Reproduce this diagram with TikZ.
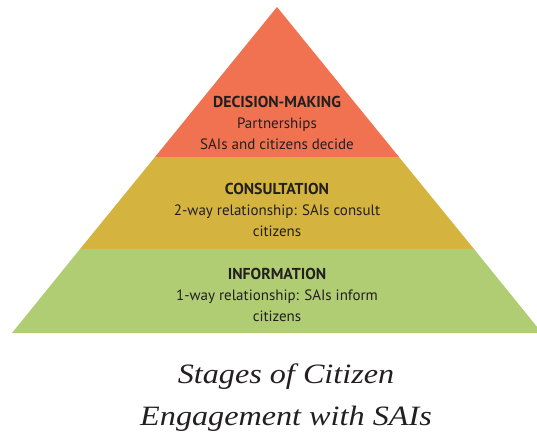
\documentclass[tikz,border=0pt]{standalone}
\usepackage{fontspec}
\setmainfont{Liberation Serif}
\newfontfamily\labfont{PT Sans}
\newfontfamily\titlefont{Liberation Serif Italic}[FakeStretch=1.15]
\definecolor{tierorange}{RGB}{240,114,80}
\definecolor{tieryellow}{RGB}{212,180,62}
\definecolor{tiergreen}{RGB}{176,205,116}
\definecolor{inkdark}{RGB}{35,31,32}
\tikzset{
  tierlabel/.style={align=center, text=inkdark, font=\labfont\fontsize{15}{21}\selectfont, inner sep=0pt},
  titletext/.style={align=center, text=inkdark, font=\titlefont\fontsize{28}{42}\selectfont, inner sep=0pt}
}
\newcommand{\tierhead}[1]{{\bfseries\fontsize{15.8}{21}\selectfont #1}}
\begin{document}
\begin{tikzpicture}[x=1pt,y=-1pt]
\useasboundingbox (0,0) rectangle (537,440);
\begin{scope}
\clip (0,0) rectangle (537,440);
\coordinate (apex) at (277,7);
\coordinate (ol) at (155,157);
\coordinate (or) at (399,157);
\coordinate (yl) at (80,249);
\coordinate (yr) at (474,249);
\coordinate (gl) at (12,333);
\coordinate (gr) at (542,333);
\fill[tierorange] (apex) -- (or) -- (ol) -- cycle;
\fill[tieryellow] (ol) -- (or) -- (yr) -- (yl) -- cycle;
\fill[tiergreen] (yl) -- (yr) -- (gr) -- (gl) -- cycle;
\end{scope}
\node[tierlabel] (dm) at (277,123) {\tierhead{DECISION-MAKING}\\Partnerships\\SAIs and citizens decide};
\node[tierlabel] (cons) at (277,210) {\tierhead{CONSULTATION}\\2-way relationship: SAIs consult\\citizens};
\node[tierlabel] (info) at (277,295) {\tierhead{INFORMATION}\\1-way relationship: SAIs inform\\citizens};
\node[titletext] (title) at (286,398) {Stages of Citizen\\Engagement with SAIs};
\end{tikzpicture}
\end{document}
